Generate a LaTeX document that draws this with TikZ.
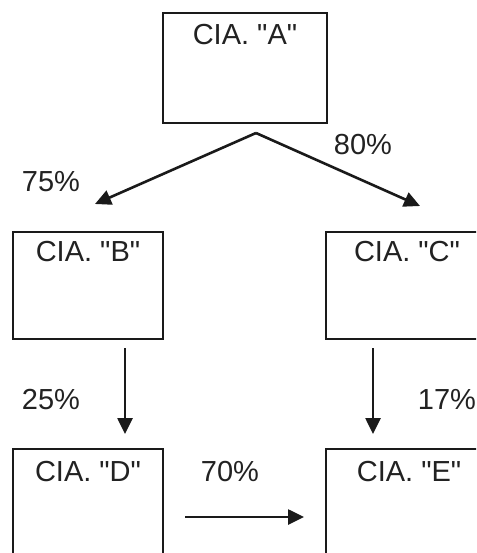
\documentclass[tikz,border=0pt]{standalone}
\usepackage{fontspec}
\newfontfamily\arialf{Liberation Sans}
\usetikzlibrary{arrows.meta}
\definecolor{ink}{HTML}{1A1A1A}
\definecolor{txt}{HTML}{222222}
\tikzset{
  box/.style={draw=ink, line width=2.8pt, rectangle, inner sep=0pt},
  lbl/.style={text=txt, font=\arialf\fontsize{29}{33}\selectfont, inner sep=0pt},
  arr/.style={draw=ink, line width=2.6pt, -{Triangle[length=16pt,width=15pt]}}
}
\begin{document}
\begin{tikzpicture}[x=1pt,y=-1pt]
\path[use as bounding box, clip] (0,0) rectangle (476,553);
\fill[white] (0,0) rectangle (476,553);
% boxes
\node[box, minimum width=164pt, minimum height=110pt] (A) at (245,68) {};
\node[box, minimum width=150pt, minimum height=107pt] (B) at (88,285.5) {};
\node[box, minimum width=164pt, minimum height=107pt] (C) at (408,285.5) {};
\node[box, minimum width=150pt, minimum height=107pt] (D) at (88,502.5) {};
\node[box, minimum width=164pt, minimum height=107pt] (E) at (408,502.5) {};
% box texts
\node[lbl] (tA) at (245,35) {CIA. "A"};
\node[lbl] (tB) at (88,252) {CIA. "B"};
\node[lbl] (tC) at (407,252) {CIA. "C"};
\node[lbl] (tD) at (88,472) {CIA. "D"};
\node[lbl] (tE) at (409,472) {CIA. "E"};
% connector points
\coordinate (apex) at (256,133);
\coordinate (tipB) at (95,204);
\coordinate (tipC) at (420,206);
\coordinate (sBD) at (125,348);
\coordinate (eBD) at (125,434);
\coordinate (sCE) at (373,348);
\coordinate (eCE) at (373,434);
\coordinate (sDE) at (185,517);
\coordinate (eDE) at (304,517);
\draw[arr] (apex) -- (tipB);
\draw[arr] (apex) -- (tipC);
\draw[arr] (sBD) -- (eBD);
\draw[arr] (sCE) -- (eCE);
\draw[arr] (sDE) -- (eDE);
% percentages
\node[lbl] (p75) at (51,182) {75\%};
\node[lbl] (p80) at (363,145) {80\%};
\node[lbl] (p25) at (51,400) {25\%};
\node[lbl] (p17) at (447,400) {17\%};
\node[lbl] (p70) at (230,472) {70\%};
\end{tikzpicture}
\end{document}
